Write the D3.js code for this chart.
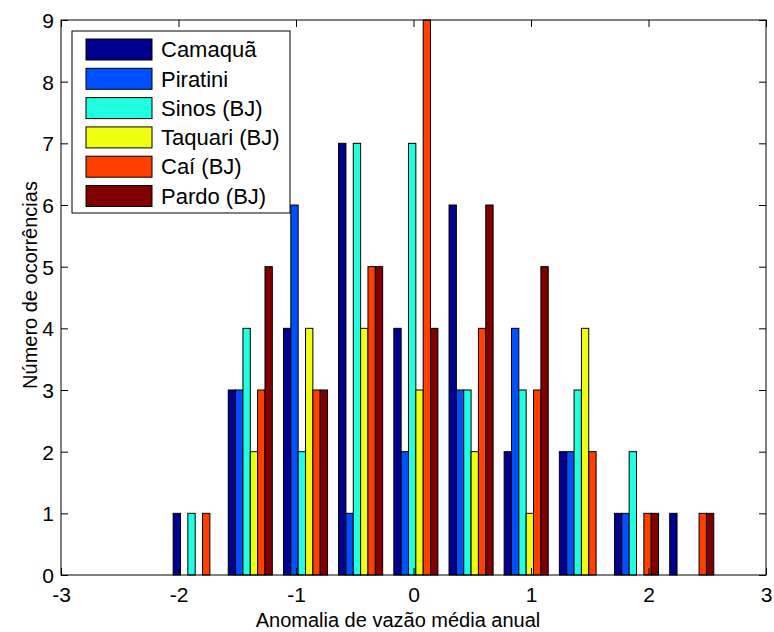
<!DOCTYPE html>
<html>
<head>
<meta charset="utf-8">
<script src="https://cdn.jsdelivr.net/npm/d3@7/dist/d3.min.js"></script>
<style>
  html, body { margin: 0; padding: 0; background: #fff; }
  svg { display: block; }
  text { font-family: "Liberation Sans", Arial, Helvetica, sans-serif; fill: #000; }
</style>
</head>
<body>
<svg id="chart" width="774" height="632"></svg>
<script>
// ---- data ----
const binCenters = [-1.858, -1.389, -0.919, -0.450, 0.020, 0.490, 0.959, 1.429, 1.898, 2.368];
const seriesNames = ["Camaquã", "Piratini", "Sinos (BJ)", "Taquari (BJ)", "Caí (BJ)", "Pardo (BJ)"];
const seriesColors = ["#00008F", "#0050FF", "#20FFDF", "#EFFF10", "#FF4000", "#800000"];
const camaqua = [1, 3, 4, 7, 4, 6, 2, 2, 1, 1];
const piratini = [0, 3, 6, 1, 2, 3, 4, 2, 1, 0];
const sinos    = [1, 4, 2, 7, 7, 3, 3, 3, 2, 0];
const taquari  = [0, 2, 4, 4, 3, 2, 1, 4, 0, 0];
const cai      = [1, 3, 3, 5, 9, 4, 3, 2, 1, 1];
const pardo    = [0, 5, 3, 5, 4, 6, 5, 0, 1, 1];
const seriesValues = [camaqua, piratini, sinos, taquari, cai, pardo];
const xTicks = [-3, -2, -1, 0, 1, 2, 3];
const yTicks = [0, 1, 2, 3, 4, 5, 6, 7, 8, 9];
const xLabel = "Anomalia de vazão média anual";
const yLabel = "Número de ocorrências";

// ---- layout ----
const svg = d3.select("#chart");
const L = 61, R = 766, T = 20, B = 575;
const x = d3.scaleLinear().domain([-3, 3]).range([L, R]);
const y = d3.scaleLinear().domain([0, 9]).range([B, T]);
const binStep = binCenters[1] - binCenters[0];
const groupWidth = 0.8 * binStep;
const inner = d3.scaleBand().domain(seriesNames).range([-groupWidth / 2, groupWidth / 2]).padding(0);

// bars
const g = svg.append("g");
seriesNames.forEach((name, si) => {
  g.selectAll(null)
    .data(binCenters.map((c, i) => ({ c, v: seriesValues[si][i] })).filter(d => d.v > 0))
    .enter().append("rect")
    .attr("x", d => x(d.c + inner(name)))
    .attr("width", d => x(d.c + inner(name) + inner.bandwidth()) - x(d.c + inner(name)))
    .attr("y", d => y(d.v))
    .attr("height", d => y(0) - y(d.v))
    .attr("fill", seriesColors[si])
    .attr("stroke", "#000")
    .attr("stroke-width", 1);
});

// axes (ticks pointing inward, on all four sides)
const tk = 7;
const fmt = d => String(d);
const axB = svg.append("g").attr("transform", `translate(0,${B})`)
  .call(d3.axisBottom(x).tickValues(xTicks).tickSizeInner(-tk).tickSizeOuter(0).tickPadding(12).tickFormat(fmt));
const axT = svg.append("g").attr("transform", `translate(0,${T})`)
  .call(d3.axisTop(x).tickValues(xTicks).tickSizeInner(-tk).tickSizeOuter(0).tickFormat(""));
const axL = svg.append("g").attr("transform", `translate(${L},0)`)
  .call(d3.axisLeft(y).tickValues(yTicks).tickSizeInner(-tk).tickSizeOuter(0).tickPadding(7).tickFormat(fmt));
const axR = svg.append("g").attr("transform", `translate(${R},0)`)
  .call(d3.axisRight(y).tickValues(yTicks).tickSizeInner(-tk).tickSizeOuter(0).tickFormat(""));
[axB, axT, axL, axR].forEach(a => {
  a.select(".domain").remove();
  a.selectAll(".tick line").attr("stroke", "#000");
});
axB.selectAll(".tick text").attr("font-size", 21).attr("dy", null).attr("y", 0)
  .attr("transform", "translate(0,27)").attr("font-family", "Liberation Sans, Arial, sans-serif");
axL.selectAll(".tick text").attr("font-size", 21).attr("dy", "0.36em").attr("x", -7)
  .attr("font-family", "Liberation Sans, Arial, sans-serif");

// frame
svg.append("rect").attr("x", L).attr("y", T).attr("width", R - L).attr("height", B - T)
  .attr("fill", "none").attr("stroke", "#000").attr("stroke-width", 1);

// labels
svg.append("text").attr("x", 398).attr("y", 627).attr("text-anchor", "middle")
  .attr("font-size", 20).text(xLabel);
svg.append("text").attr("transform", "translate(37,285) rotate(-90)").attr("text-anchor", "middle")
  .attr("font-size", 20).text(yLabel);

// legend
const lg = svg.append("g");
lg.append("rect").attr("x", 72).attr("y", 31).attr("width", 218).attr("height", 182)
  .attr("fill", "#fff").attr("stroke", "#000").attr("stroke-width", 1);
const rowStep = 29.3;
seriesNames.forEach((name, i) => {
  const cy = 49.5 + i * rowStep;
  lg.append("rect").attr("x", 86).attr("y", cy - 10.5).attr("width", 66).attr("height", 21)
    .attr("fill", seriesColors[i]).attr("stroke", "#000").attr("stroke-width", 1);
  lg.append("text").attr("x", 161).attr("y", cy + 7.7).attr("font-size", 22).text(name);
});
</script>
</body>
</html>
